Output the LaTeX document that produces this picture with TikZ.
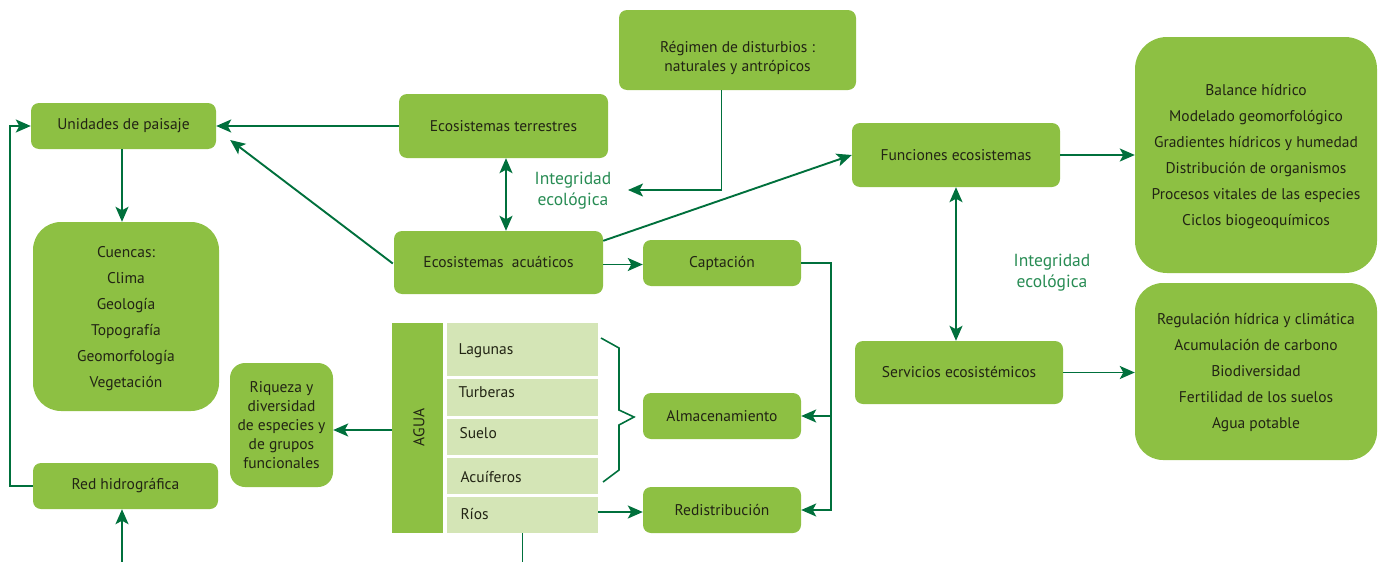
\documentclass[tikz,border=0pt]{standalone}
\usepackage{fontspec}
\setmainfont{PT Sans}
\usetikzlibrary{arrows.meta,calc}
\definecolor{boxgreen}{RGB}{141,192,67}
\definecolor{cellgreen}{RGB}{212,229,182}
\definecolor{linegreen}{RGB}{0,112,60}
\definecolor{labelgreen}{RGB}{40,140,84}
\definecolor{ink}{RGB}{34,36,20}
\begin{document}
\begin{tikzpicture}[x=1pt,y=-1pt,
  box/.style={fill=boxgreen,draw=none,rounded corners=8pt,inner sep=0pt,
    text=ink,font=\fontsize{15.5}{19}\selectfont,align=center},
  bigbox/.style={box,rounded corners=28pt,font=\fontsize{15.5}{26}\selectfont},
  cell/.style={fill=cellgreen,draw=none,inner sep=0pt},
  celltext/.style={anchor=west,text=ink,font=\fontsize{15.5}{19}\selectfont},
  tip/.style={Stealth[length=15pt,width=13pt,inset=3.5pt]},
  arr/.style={draw=linegreen,line width=1.9pt,-{Stealth[length=15pt,width=13pt,inset=3.5pt]}},
  arr2/.style={draw=linegreen,line width=1.9pt,{Stealth[length=15pt,width=13pt,inset=3.5pt]}-{Stealth[length=15pt,width=13pt,inset=3.5pt]}},
  plain/.style={draw=linegreen,line width=1.9pt},
  integ/.style={text=labelgreen,font=\fontsize{17.5}{21}\selectfont,align=center}]
\useasboundingbox (0,0) rectangle (1382,562);

% left column
\node[box,minimum width=185pt,minimum height=46pt] (unid) at (123.5,126) {Unidades de paisaje};
\node[bigbox,minimum width=186pt,minimum height=189pt] (cuen) at (126,316.5) {};
\node[text=ink,font=\fontsize{15.5}{26}\selectfont,align=center] (cuentxt) at ($(cuen.center)+(0,2)$)
  {Cuencas:\\Clima\\Geología\\Topografía\\Geomorfología\\Vegetación};
\node[box,minimum width=185pt,minimum height=46pt] (red) at (125.5,486) {Red hidrográfica};
\node[box,rounded corners=15pt,minimum width=103pt,minimum height=124pt] (riq) at (281.5,425)
  {Riqueza y\\diversidad\\de especies y\\de grupos\\funcionales};

% centre column
\node[box,minimum width=209pt,minimum height=64pt] (terr) at (503.5,126) {Ecosistemas terrestres};
\node[box,minimum width=237pt,minimum height=80pt] (regim) at (737.5,50) {};
\node[text=ink,font=\fontsize{15.5}{19}\selectfont,align=center] (regimtxt) at ($(regim.center)+(0,8)$)
  {Régimen de disturbios :\\naturales y antrópicos};
\node[box,minimum width=209pt,minimum height=63pt] (acuat) at (498.5,262.5) {Ecosistemas\ \ acuáticos};
\node[box,minimum width=158pt,minimum height=46pt] (capt) at (722,263) {Captación};
\node[box,minimum width=158pt,minimum height=46pt] (alm) at (722,416) {Almacenamiento};
\node[box,minimum width=158pt,minimum height=46pt] (redis) at (722,510) {Redistribución};

% water compartments
\node[fill=boxgreen,inner sep=0pt,minimum width=51pt,minimum height=210pt] (agua) at (417.5,428) {};
\node[rotate=90,text=ink,font=\fontsize{15.5}{17}\selectfont] (aguatxt) at (419,427.5) {AGUA};
\node[cell,minimum width=151pt,minimum height=53pt] (lag) at (522.5,349.5) {};
\node[cell,minimum width=151pt,minimum height=37pt] (tur) at (522.5,397.5) {};
\node[cell,minimum width=151pt,minimum height=36pt] (sue) at (522.5,437) {};
\node[cell,minimum width=151pt,minimum height=36pt] (acu) at (522.5,476) {};
\node[cell,minimum width=151pt,minimum height=36pt] (rios) at (522.5,515) {};
\node[celltext] (lagt) at (455,351) {Lagunas};
\node[celltext] (turt) at (455,392) {Turberas};
\node[celltext] (suet) at (456,433) {Suelo};
\node[celltext] (acut) at (457,477) {Acuíferos};
\node[celltext] (riot) at (457,514) {Ríos};

% right side
\node[box,minimum width=208pt,minimum height=64pt] (fun) at (956,155) {Funciones ecosistemas};
\node[box,minimum width=208pt,minimum height=63pt] (serv) at (959,372.5) {Servicios ecosistémicos};
\node[bigbox,rounded corners=32pt,minimum width=242pt,minimum height=236pt] (fl) at (1256,155) {};
\node[text=ink,font=\fontsize{15.5}{26}\selectfont,align=center] (fltxt) at ($(fl.center)+(0,2)$)
  {Balance hídrico\\Modelado geomorfológico\\Gradientes hídricos y humedad\\Distribución de organismos\\Procesos vitales de las especies\\Ciclos biogeoquímicos};
\node[bigbox,minimum width=242pt,minimum height=177pt] (sl) at (1256,371.5) {};
\node[text=ink,font=\fontsize{15.5}{26}\selectfont,align=center] (sltxt) at ($(sl.center)+(0,1.5)$)
  {Regulación hídrica y climática\\Acumulación de carbono\\Biodiversidad\\Fertilidad de los suelos\\Agua potable};

% labels
\node[integ] (ie1) at (573,191) {Integridad\\ecológica};
\node[integ] (ie2) at (1052,273) {Integridad\\ecológica};

% connectors
\coordinate (left) at (10,0);
\coordinate (bot) at (122,562);
\coordinate (bus) at (831,0);
\coordinate (dist) at (628,190);
\draw[arr] (terr.west) -- (unid.east);
\draw[arr] ($(acuat.west)+(-1,1)$) -- ($(unid.east)+(14,14)$);
\draw[arr] (unid.south -| bot) -- (cuen.north -| bot);
\draw[arr] (red.west) -- (red.west -| left) -- (unid.west -| left) -- (unid.west);
\draw[arr] (bot) -- (red.south -| bot);
\draw[arr2] ([xshift=2.5pt]terr.south) -- ([xshift=2.5pt]terr.south |- acuat.north);
\draw[arr] ($(regim.south)+(-16,0)$) |- (dist);
\draw[arr] ($(acuat.north east)+(0,10)$) -- (fun.west);
\draw[arr] ([yshift=-2pt]acuat.east) -- ([yshift=-2pt]acuat.east -| capt.west);
\draw[arr] (capt.east) -- (capt.east -| bus) -- (redis.east -| bus) -- (redis.east);
\draw[arr] (alm.east -| bus) -- (alm.east);
\draw[arr] ([yshift=-2pt]redis.west -| rios.east) -- ([yshift=-2pt]redis.west);
\draw[arr] ([yshift=-2pt]agua.west) -- ([yshift=-2pt]agua.west -| riq.east);
\draw[plain] (rios.south) -- (rios.south |- bot);
\draw[arr] (fun.east) -- (fun.east -| fl.west);
\draw[arr] (serv.east) -- (serv.east -| sl.west);
\draw[arr2] (fun.south) -- (fun.south |- serv.north);

% brace grouping the storage compartments
\draw[draw=linegreen,line width=1.6pt,line join=miter]
  (601,338) -- (619,348) -- (619,410) -- (634,417) -- (619,425) -- (619,470) -- (603,482);
\end{tikzpicture}
\end{document}
